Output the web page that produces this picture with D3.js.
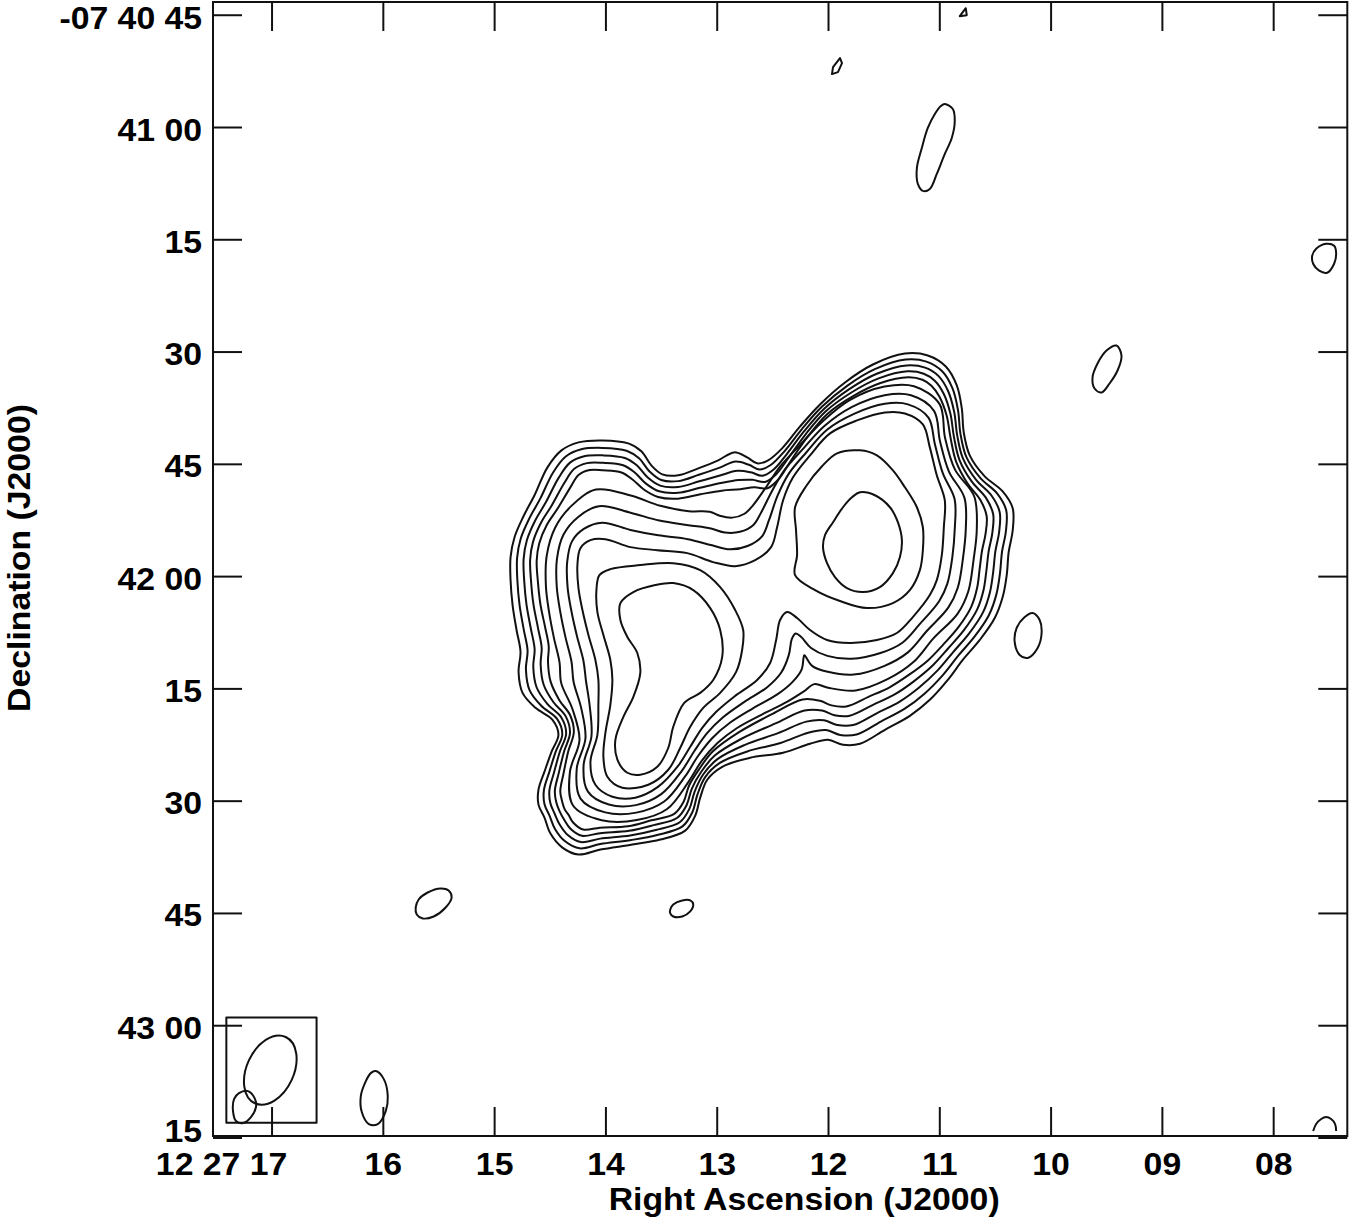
<!DOCTYPE html>
<html><head><meta charset="utf-8">
<script src="https://cdn.jsdelivr.net/npm/d3@7"></script>
<style>
body{margin:0;background:#fff}
text{font-family:"Liberation Sans",Arial,Helvetica,sans-serif;font-weight:bold;fill:#000}
</style></head>
<body><svg id="chart" width="1350" height="1219"></svg>
<script>
// ---------- DATA ----------
// Axis ticks: RA seconds of 12h27m, Dec arcsec south of -07°40'00"
const raTicks = [17,16,15,14,13,12,11,10,9,8];
const raTickLabels = ["12 27 17","16","15","14","13","12","11","10","09","08"];
const decTicks = [45,60,75,90,105,120,135,150,165,180,195];
const decTickLabels = ["-07 40 45","41 00","15","30","45","42 00","15","30","45","43 00","15"];
const mapRA = [17.526, 7.334];      // RA (s) at left / right map edge
const mapDec = [43.3, 194.8];       // Dec (arcsec south of -07 40 00) at top / bottom edge
// contour vertices: [east offset ", north offset "] from 12 27 12.0 -07 42 00
const refRA = 12, refDecS = 120, decDeg = 7.7;

// level 1 (lowest) contour of the main source
const contourC1 = [[-10.27,29.73],[-13.33,29.47],[-15.73,28.00],[-17.20,25.47],[-17.87,22.40],[-18.13,19.20],[-18.93,16.13],[-20.93,13.33],[-23.33,11.33],[-24.67,9.07],[-24.67,6.13],[-24.13,3.20],[-23.87,0.13],[-23.33,-2.80],[-22.27,-5.60],[-20.27,-8.53],[-18.00,-11.20],[-16.00,-13.87],[-13.60,-16.53],[-10.93,-18.67],[-7.60,-20.53],[-4.27,-22.40],[-2.00,-22.53],[0,-21.87],[2.40,-22.40],[6.00,-23.60],[10.40,-24.27],[14.13,-25.47],[16.13,-27.20],[17.07,-29.60],[17.73,-32.00],[19.07,-34.00],[22.40,-35.20],[26.13,-35.87],[30.40,-36.53],[33.33,-37.20],[35.47,-36.27],[37.07,-34.40],[37.87,-32.27],[38.67,-30.53],[38.67,-28.53],[37.87,-26.13],[36.93,-23.47],[36.00,-21.20],[36.80,-19.20],[39.07,-17.60],[40.80,-15.60],[41.33,-12.80],[41.07,-10.13],[41.60,-7.20],[42.13,-3.87],[42.40,-0.53],[42.40,2.53],[41.87,5.20],[40.67,8.00],[39.20,10.80],[37.47,14.53],[35.60,16.80],[33.33,17.87],[30.13,18.13],[26.67,17.73],[24.93,16.67],[23.60,14.80],[22.13,13.60],[20.00,13.47],[17.33,14.40],[14.67,15.47],[12.53,16.53],[10.80,15.87],[9.47,15.07],[8.00,15.47],[6.13,17.07],[3.73,20.00],[1.07,22.93],[-2.27,25.87],[-6.00,28.27]];
// spacing (") of levels 2-5 inside level 1, at each level-1 vertex
const outerSpacing = [0.80,0.83,0.80,0.69,0.56,0.48,0.50,0.62,0.80,0.91, 0.92,0.89,0.93,0.91,0.87,0.83,0.83,0.93,1.09,1.17,
  1.23,1.33,1.37,1.33,1.50,1.35,0.93,0.60,0.44,0.55, 0.60,0.67,0.71,0.63,0.73,0.85,0.91,0.87,0.73,0.80,
  0.73,0.64,0.56,0.52,0.61,0.84,1.01,1.04,0.96,0.96, 0.93,0.91,0.88,0.85,0.83,0.89,1.02,1.00,1.00,1.00,
  1.00,0.98,0.85,0.77,0.78,0.87,1.02,1.25,1.03,0.90, 0.72,0.50,0.42,0.40,0.53,0.67];

// level 9 (encloses both peaks, notch at the saddle)
const contourC9 = [[-0.27,19.07],[-3.87,20.80],[-7.60,21.87],[-10.27,21.73],[-12.67,20.27],[-13.60,17.20],[-14.53,13.47],[-15.60,10.13],[-15.47,6.53],[-15.20,2.80],[-14.53,-0.53],[-13.60,-2.53],[-11.33,-5.47],[-9.20,-7.60],[-6.53,-8.53],[-2.93,-8.93],[0.13,-8.53],[2.40,-7.20],[4.13,-5.60],[5.47,-4.80],[6.40,-5.87],[6.93,-8.53],[7.73,-11.60],[9.47,-13.87],[12.40,-16.00],[14.93,-18.13],[16.80,-20.27],[18.40,-22.80],[20.00,-25.33],[22.67,-28.13],[25.73,-29.60],[28.80,-29.47],[31.07,-27.87],[31.73,-24.80],[30.80,-21.20],[30.67,-17.20],[30.67,-13.87],[31.07,-11.20],[32.00,-7.87],[32.80,-4.53],[33.33,-1.60],[33.47,1.47],[33.07,3.73],[31.73,4.80],[29.73,4.93],[26.40,3.87],[22.80,3.47],[18.80,3.07],[15.33,1.87],[12.40,1.33],[9.73,2.13],[7.60,3.87],[6.80,6.53],[6.00,10.13],[4.67,13.20],[2.40,16.13]];
// spacing (") of levels 6-8 outside level 9, at each level-9 vertex
const innerSpacing = [0.62,0.96,1.15,1.28,1.17,0.80,0.85,1.32,1.47,1.43, 1.49,1.49,1.32,1.49,1.81,2.13,2.13,2.40,2.60,3.10,
  3.00,2.60,1.96,1.66,1.45,1.17,0.96,0.81,0.85,1.07, 1.00,1.15,1.36,1.02,0.83,1.17,1.66,1.60,1.54,1.49,
  1.45,1.43,1.45,1.75,2.25,2.30,1.98,1.87,2.25,2.35, 2.15,1.90,1.45,0.96,0.75,0.64];

// level 10 rings around the western and eastern peaks
const contourW10 = [[-1.20,16.40],[-4.27,16.80],[-6.53,16.13],[-8.67,14.13],[-10.27,11.87],[-11.87,9.20],[-12.67,6.53],[-12.67,3.47],[-12.27,0.80],[-10.93,-1.87],[-8.67,-3.60],[-5.20,-4.27],[-1.60,-3.33],[1.73,-1.87],[4.40,0.13],[4.13,2.80],[4.27,6.13],[4.40,9.20],[2.93,12.00],[0.80,14.67]];
const contourE10 = [[29.07,0.93],[25.07,1.47],[20.67,1.73],[17.07,0.80],[14.40,-1.47],[12.40,-4.53],[11.33,-7.20],[11.47,-9.87],[12.27,-12.80],[14.40,-15.60],[16.67,-17.60],[18.40,-20.13],[19.73,-22.93],[21.33,-25.87],[24.00,-27.87],[27.47,-28.27],[29.47,-26.80],[30.00,-24.13],[29.73,-20.93],[29.07,-17.20],[28.80,-13.87],[29.07,-11.20],[30.00,-7.87],[30.80,-4.80],[30.93,-1.87],[30.53,0.13]];
// level 11 (peaks)
const contourW11 = [[-4.27,11.20],[-6.27,10.80],[-8.27,9.20],[-9.33,7.20],[-9.87,4.80],[-9.60,2.53],[-8.67,0.40],[-6.93,-1.47],[-4.67,-2.13],[-2.53,-1.60],[-0.93,-0.13],[0.13,1.73],[0.67,3.87],[0.40,5.47],[-0.67,7.20],[-2.00,9.20],[-3.20,10.53]];
const contourE11 = [[27.73,-3.60],[26.00,-2.13],[23.07,-1.20],[20.67,-0.93],[18.00,-1.87],[15.73,-4.27],[14.40,-7.20],[14.13,-10.80],[15.33,-13.87],[17.07,-15.60],[19.20,-16.93],[20.67,-20.13],[21.33,-22.93],[22.80,-25.47],[25.07,-26.53],[26.80,-26.27],[28.13,-24.53],[28.40,-21.87],[27.33,-18.80],[26.00,-16.13],[25.07,-12.93],[25.47,-10.27],[26.80,-8.13],[27.73,-5.87]];

// isolated low-level contours
const islandTop = [[-17.60,74.80],[-18.40,75.87],[-18.53,74.93]];
const islandDiamond = [[-0.53,67.07],[-0.67,68.00],[-1.60,69.20],[-1.87,68.53],[-1.33,67.33]];
const islandNorth = [[-15.60,63.07],[-16.67,62.40],[-16.93,60.80],[-16.53,58.53],[-15.60,56.40],[-14.53,53.73],[-13.60,51.73],[-12.67,51.47],[-12.00,52.40],[-11.87,54.53],[-12.53,57.20],[-13.33,59.87],[-14.27,61.73],[-15.07,62.80]];
const islandEdge = [[-65.20,43.73],[-66.53,44.40],[-67.60,44.13],[-67.87,43.07],[-67.60,41.73],[-66.67,40.53],[-65.60,40.80],[-64.80,41.73],[-64.67,42.80]];
const islandNW = [[-38.53,30.80],[-39.20,29.47],[-38.67,27.47],[-37.60,25.73],[-36.53,24.53],[-35.60,25.07],[-35.33,26.53],[-36.00,28.40],[-37.20,30.13]];
const islandW = [[-27.33,-4.93],[-28.27,-5.87],[-28.53,-7.60],[-28.00,-9.60],[-26.67,-10.93],[-25.60,-10.53],[-24.93,-8.80],[-25.20,-6.93],[-26.27,-5.47]];
const islandSE = [[55.07,-44.27],[54.67,-43.20],[53.47,-42.27],[51.73,-41.73],[50.67,-42.00],[50.27,-42.93],[51.07,-44.27],[52.67,-45.47],[54.13,-45.73],[54.93,-45.20]];
const islandS = [[21.07,-44.53],[20.67,-43.87],[19.47,-43.33],[18.40,-43.33],[18.00,-43.87],[18.40,-44.80],[19.47,-45.47],[20.67,-45.47],[21.07,-45.07]];
const islandSE2 = [[60.40,-66.13],[59.33,-67.20],[58.80,-69.47],[59.07,-71.47],[60.13,-73.20],[61.33,-73.20],[62.27,-71.60],[62.40,-69.47],[61.73,-67.47],[61.07,-66.40]];
const islandCorner = [[77.47,-68.80],[76.53,-69.87],[76.40,-70.93],[77.07,-72.27],[78.13,-73.07],[79.07,-72.80],[79.47,-71.47],[79.33,-69.87],[78.67,-69.07]];
const arcSW = [[-64.80,-74.13],[-65.20,-73.20],[-65.87,-72.53],[-66.53,-72.27],[-67.20,-72.53],[-67.73,-73.20],[-67.87,-74.13]];

// restoring beam: centre offset ("), semi-major / semi-minor ("), position angle (deg)
const beamCentre = [74.49,-66.0];
const beamAxes = [4.88,3.14];
const beamPA = -25;
const beamBox = [[80.36,-58.97],[68.31,-73.03]];

// ---------- GEOMETRY HELPERS ----------
function segInt(a,b,c,d){
  const r=[b[0]-a[0],b[1]-a[1]], s=[d[0]-c[0],d[1]-c[1]];
  const den=r[0]*s[1]-r[1]*s[0]; if(Math.abs(den)<1e-12) return null;
  const t=((c[0]-a[0])*s[1]-(c[1]-a[1])*s[0])/den, u=((c[0]-a[0])*r[1]-(c[1]-a[1])*r[0])/den;
  return (t>0&&t<1&&u>0&&u<1)?[a[0]+t*r[0],a[1]+t*r[1]]:null;
}
function removeLoops(P){
  let pts=P.slice(), guard=0, changed=true;
  while(changed && guard++<200){
    changed=false; const n=pts.length;
    outer: for(let i=0;i<n;i++){
      const a=pts[i], b=pts[(i+1)%n];
      for(let k=2;k<=Math.min(14,n-2);k++){
        const j=(i+k)%n, p=segInt(a,b,pts[j],pts[(j+1)%n]);
        if(p){
          const np=[];
          for(let m=0;m<n;m++){ const rel=(m-i-1+n)%n; if(rel<k){ if(rel===0) np.push(p); continue; } np.push(pts[m]); }
          pts=np; changed=true; break outer;
        }
      }
    }
  }
  return pts;
}
// shift a closed contour along its normals by (sign * k * spacing[i])
function shifted(C, spacing, k, sign, win){
  const n=C.length;
  return removeLoops(C.map((p,i)=>{
    const a=C[(i+win)%n], b=C[(i-win+n)%n];
    const tx=a[0]-b[0], ty=a[1]-b[1], len=Math.hypot(tx,ty);
    const d=sign*k*spacing[i];
    return [p[0]-ty/len*d, p[1]+tx/len*d];
  }));
}
const levels2to5 = [1,2,3,4].map(k=>shifted(contourC1, outerSpacing, k, 1, 3));
const levels6to8 = [3,2,1].map(k=>shifted(contourC9, innerSpacing, k, -1, 4));

const mainContours = [contourC1, ...levels2to5, ...levels6to8, contourC9, contourW10, contourE10, contourW11, contourE11];
const islands = [islandNorth, islandEdge, islandNW, islandW, islandSE, islandS, islandSE2, islandCorner];
const angular = [islandTop, islandDiamond];

// ---------- DRAW ----------
const svg = d3.select("#chart");
const L = 213, R = 1347.3, T = 2, B = 1136;
const x = d3.scaleLinear().domain(mapRA).range([L, R]);
const y = d3.scaleLinear().domain(mapDec).range([T, B]);
const arcsecPerS = 15*Math.cos(decDeg*Math.PI/180);
const px = p => x(refRA + p[0]/arcsecPerS);
const py = p => y(refDecS - p[1]);

const smooth = d3.line().x(px).y(py).curve(d3.curveCatmullRomClosed.alpha(0.5));
const poly = d3.line().x(px).y(py).curve(d3.curveLinearClosed);
const open = d3.line().x(px).y(py).curve(d3.curveCatmullRom.alpha(0.5));

svg.append("defs").append("clipPath").attr("id","clip")
  .append("rect").attr("x",L).attr("y",T).attr("width",R-L).attr("height",B-T);

const g = svg.append("g").attr("clip-path","url(#clip)")
  .attr("fill","none").attr("stroke","#111").attr("stroke-width",2).attr("stroke-linejoin","round");
g.selectAll("path.main").data(mainContours).join("path").attr("class","main").attr("d",smooth);
g.selectAll("path.isl").data(islands).join("path").attr("class","isl").attr("d",smooth);
g.selectAll("path.ang").data(angular).join("path").attr("class","ang").attr("d",poly);
g.append("path").attr("d",open(arcSW));

// beam box and beam
const bx0 = px(beamBox[0]), by0 = py(beamBox[0]), bx1 = px(beamBox[1]), by1 = py(beamBox[1]);
g.append("rect").attr("x",bx0).attr("y",by0).attr("width",bx1-bx0).attr("height",by1-by0);
const sc = x(refRA) - x(refRA + 1/arcsecPerS);
g.append("ellipse").attr("cx",px(beamCentre)).attr("cy",py(beamCentre))
  .attr("rx",beamAxes[1]*sc).attr("ry",beamAxes[0]*sc)
  .attr("transform",`rotate(${-beamPA},${px(beamCentre)},${py(beamCentre)})`);

// axes (inward ticks)
const tk = 29, FS = 31, SX = 1.09;
const axB = d3.axisBottom(x).tickValues(raTicks).tickSize(-tk).tickSizeOuter(0).tickPadding(17)
  .tickFormat((d,i)=>raTickLabels[i]);
const gB = svg.append("g").attr("transform",`translate(0,${B})`).call(axB);
gB.selectAll("text").filter((d,i)=>i===0).attr("text-anchor","end").attr("x",14);
const axT = d3.axisTop(x).tickValues(raTicks).tickSize(-tk).tickSizeOuter(0).tickFormat("");
svg.append("g").attr("transform",`translate(0,${T})`).call(axT);
const axLft = d3.axisLeft(y).tickValues(decTicks).tickSize(-tk).tickSizeOuter(0).tickPadding(10)
  .tickFormat((d,i)=>decTickLabels[i]);
const gL = svg.append("g").attr("transform",`translate(${L},0)`).call(axLft);
gL.selectAll("text").attr("dy","0.42em");
gL.selectAll("text").filter((d,i)=>i===0).attr("dy","0.45em");
gL.selectAll("text").filter((d,i)=>i===decTicks.length-1).attr("dy","0.13em");
const axR = d3.axisRight(y).tickValues(decTicks).tickSize(-tk).tickSizeOuter(0).tickFormat("");
svg.append("g").attr("transform",`translate(${R},0)`).call(axR);

svg.selectAll(".domain").remove();
svg.selectAll(".tick line").attr("stroke","#111").attr("stroke-width",2);
svg.selectAll(".tick text").attr("font-size",FS).attr("font-family","'Liberation Sans',Arial,sans-serif")
  .attr("font-weight","bold").attr("fill","#000").attr("transform",`scale(${SX},1)`);

svg.append("rect").attr("x",L).attr("y",T).attr("width",R-L).attr("height",B-T)
  .attr("fill","none").attr("stroke","#111").attr("stroke-width",2);

svg.append("text").attr("transform",`translate(${(L+R)/2+24},1210) scale(${SX},1)`).attr("text-anchor","middle")
  .attr("font-size",FS).text("Right Ascension (J2000)");
svg.append("text").attr("transform",`translate(30,558) rotate(-90) scale(${SX},1)`).attr("text-anchor","middle")
  .attr("font-size",FS).text("Declination (J2000)");
</script></body></html>
